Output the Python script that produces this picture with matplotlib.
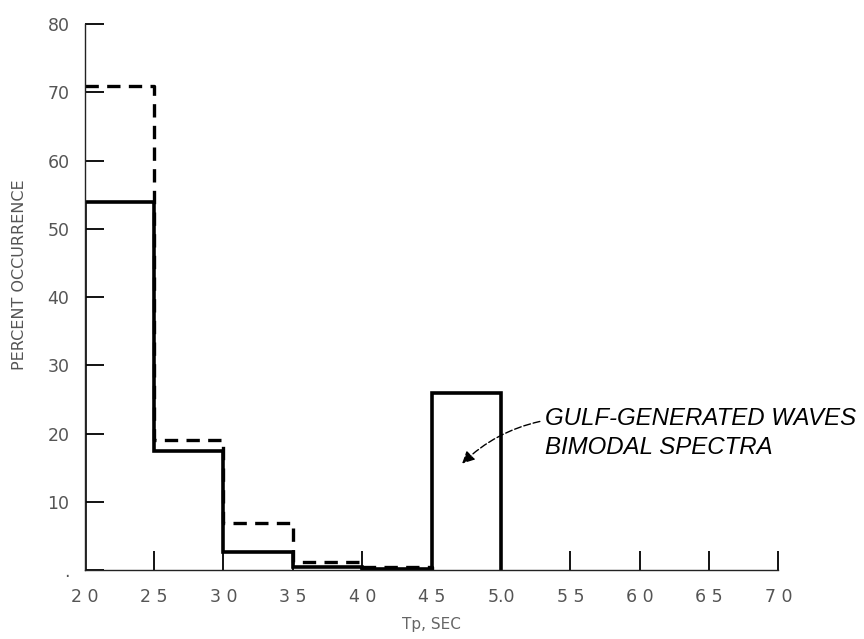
import matplotlib
matplotlib.use('Agg')
import matplotlib.pyplot as plt
import numpy as np

# bin edges for the peak period Tp (sec)
bin_edges = [2.0, 2.5, 3.0, 3.5, 4.0, 4.5, 5.0]
# percent occurrence, solid line (all bins incl. the gulf-generated bump)
solid_pct = [54.0, 17.5, 2.7, 0.5, 0.2, 26.0]
# percent occurrence, dashed line (ends at 4.5 sec)
dashed_edges = [2.0, 2.5, 3.0, 3.5, 4.0, 4.5]
dashed_pct = [71.0, 19.0, 6.9, 1.2, 0.4]

x_ticks = [2.5, 3.0, 3.5, 4.0, 4.5, 5.0, 5.5, 6.0, 6.5, 7.0]
x_labels = ['2 5', '3 0', '3 5', '4 0', '4 5', '5.0', '5 5', '6 0', '6 5', '7 0']
y_ticks = [0, 10, 20, 30, 40, 50, 60, 70, 80]
y_labels = ['.', '10', '20', '30', '40', '50', '60', '70', '80']

fig = plt.figure(figsize=(8.64, 6.39), dpi=100)
ax = fig.add_axes([0.098, 0.108, 0.803, 0.854])

# solid histogram outline, closed down to the axis at both ends
xs = np.repeat(bin_edges, 2)
ys = np.concatenate([[0], np.repeat(solid_pct, 2), [0]])
ax.plot(xs, ys, color='black', lw=2.6, solid_joinstyle='miter')

# dashed outline starts on the axis at 71 and drops to zero at 4.5
xd = np.repeat(dashed_edges, 2)[1:]
yd = np.concatenate([np.repeat(dashed_pct, 2), [0]])
ax.plot(xd, yd, color='black', lw=2.4, ls=(0, (4, 2.5)))

ax.set_xlim(2.0, 7.0)
ax.set_ylim(0, 80)
ax.spines['top'].set_visible(False)
ax.spines['right'].set_visible(False)
ax.spines['left'].set_linewidth(1.0)
ax.spines['bottom'].set_linewidth(1.0)
ax.spines['left'].set_color('#222222')
ax.spines['bottom'].set_color('#222222')
ax.spines['left'].set_bounds(0, 80)
ax.spines['bottom'].set_bounds(2.0, 7.0)

ax.set_xticks(x_ticks)
ax.set_xticklabels(x_labels)
ax.set_yticks(y_ticks)
ax.set_yticklabels(y_labels)
ax.tick_params(direction='in', length=14, width=1.3, colors='black',
               labelcolor='#555555', labelsize=12.5)
ax.tick_params(axis='x', pad=13)
ax.tick_params(axis='y', pad=11)
# the 2.0 label sits below the corner without a tick mark
ax.text(2.0, -3.9, '2 0', ha='center', va='center', fontsize=12.5, color='#555555')

fig.text(20 / 864, 1 - 275 / 639, 'PERCENT OCCURRENCE', fontsize=11.5, color='#555555',
         rotation=90, ha='center', va='center')
ax.set_xlabel('Tp, SEC', fontsize=11, color='#666666', labelpad=8)

ax.annotate('GULF-GENERATED WAVES\nBIMODAL SPECTRA', xy=(4.72, 15.6), xytext=(5.32, 20.1),
            fontsize=17.3, fontstyle='italic', family='Liberation Sans', va='center',
            linespacing=1.35,
            arrowprops=dict(arrowstyle='-|>', color='black', lw=1.0, ls=(0, (5, 2)),
                            connectionstyle='arc3,rad=0.15', mutation_scale=18,
                            shrinkA=2, shrinkB=0, relpos=(0, 0.74)))

fig.savefig('out.png', dpi=100)
